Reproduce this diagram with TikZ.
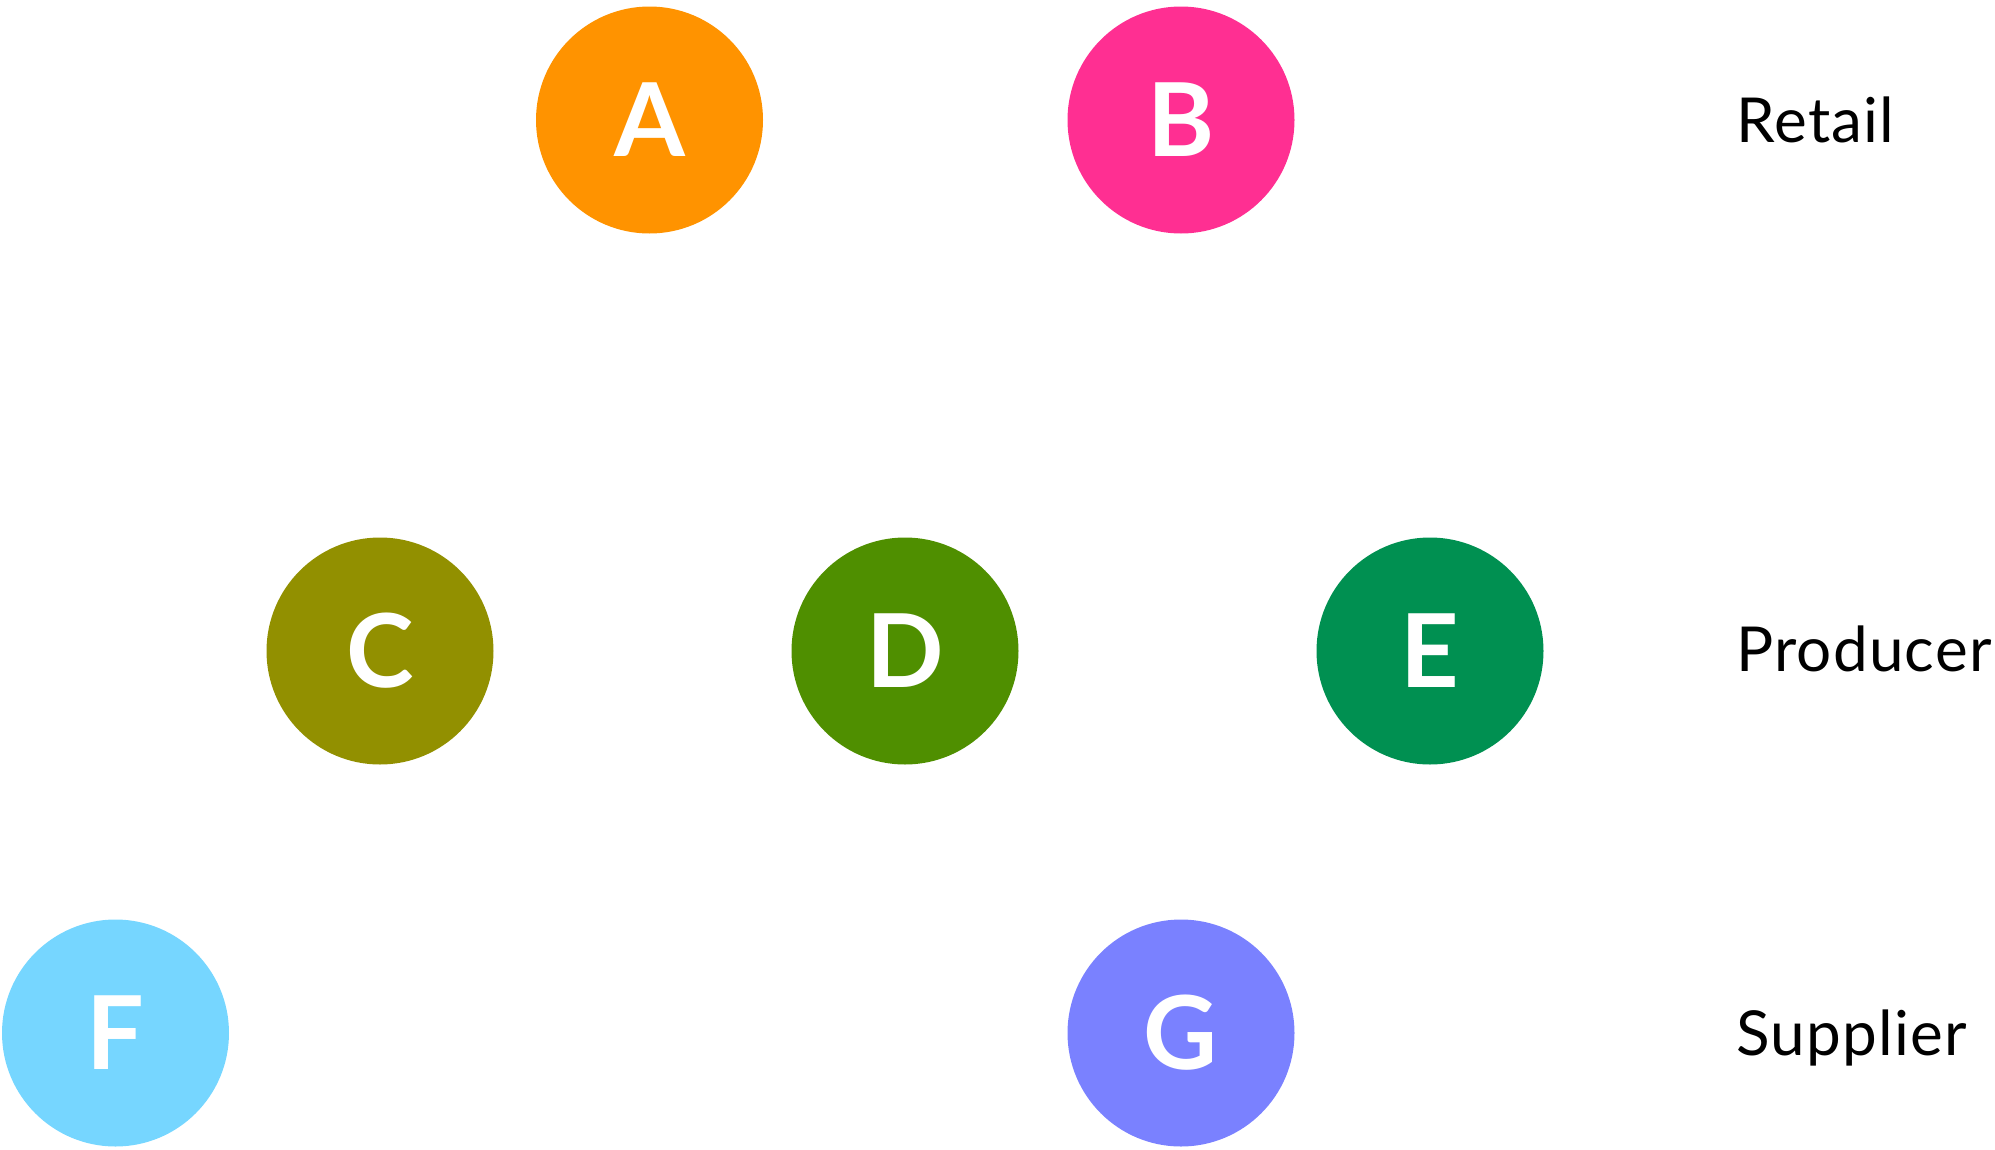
\documentclass[tikz,border=0pt]{standalone}
\usepackage{fontspec}
\setmainfont{Lato}
\newfontfamily\tierfont{Lato}[LetterSpace=2]
\definecolor{cA}{HTML}{FF9300}
\definecolor{cB}{HTML}{FF2F92}
\definecolor{cC}{HTML}{929000}
\definecolor{cD}{HTML}{4F8F00}
\definecolor{cE}{HTML}{009051}
\definecolor{cF}{HTML}{76D6FF}
\definecolor{cG}{HTML}{7A81FF}
\begin{document}
\begin{tikzpicture}[x=1pt,y=-1pt,
  actor/.style={circle,minimum size=227pt,inner sep=0pt,text=white,font=\fontsize{102}{102}\selectfont\bfseries},
  tier/.style={anchor=base west,inner sep=0pt,font=\tierfont\fontsize{62}{62}\selectfont}]
\useasboundingbox (0,0) rectangle (1995,1149);
\node[actor,fill=cA] (A) at (649.5,120) {A};
\node[actor,fill=cB] (B) at (1181,120) {B};
\node[actor,fill=cC] (C) at (380,651) {C};
\node[actor,fill=cD] (D) at (905,651) {D};
\node[actor,fill=cE] (E) at (1430,651) {E};
\node[actor,fill=cF] (F) at (115.5,1033) {F};
\node[actor,fill=cG] (G) at (1181,1033) {G};
\node[tier] (r) at (1736,142) {Retail};
\node[tier] (p) at (1736,671) {Producer};
\node[tier] (s) at (1736,1055) {Supplier};
\end{tikzpicture}
\end{document}
